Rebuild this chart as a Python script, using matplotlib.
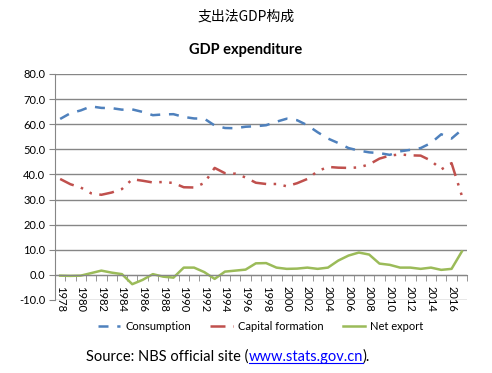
import numpy as np
import matplotlib
matplotlib.use("Agg")
import matplotlib.pyplot as plt
from matplotlib.ticker import FixedLocator

years = list(range(1978, 2018))

consumption = [62.1, 64.4, 65.5, 67.1, 66.5, 66.4, 65.8, 65.9, 64.9, 63.6,
               63.9, 64.0, 62.9, 62.3, 62.2, 59.5, 58.5, 58.4, 59.0, 59.2,
               59.6, 61.0, 62.2, 61.6, 59.6, 56.8, 54.3, 52.5, 50.5, 49.5,
               48.8, 48.5, 47.8, 49.2, 49.8, 50.5, 52.5, 56.0, 54.3, 57.8]

capital = [38.2, 36.1, 34.8, 32.5, 31.9, 32.8, 34.2, 38.1, 37.5, 36.8,
           37.0, 36.6, 34.9, 34.8, 36.6, 42.6, 40.5, 40.3, 38.8, 36.7,
           36.2, 36.2, 35.3, 36.5, 38.2, 41.3, 43.0, 42.7, 42.6, 42.8,
           44.0, 46.3, 47.5, 48.0, 47.6, 47.5, 45.5, 42.0, 44.5, 31.5]

net_export = [-0.3, -0.4, -0.3, 0.7, 1.7, 0.9, 0.3, -3.7, -2.0, 0.3,
              -0.7, -1.1, 2.9, 2.9, 1.1, -1.6, 1.3, 1.7, 2.1, 4.6,
              4.7, 2.9, 2.4, 2.5, 2.9, 2.4, 2.9, 5.7, 7.7, 8.9,
              8.1, 4.5, 4.0, 2.9, 2.9, 2.4, 2.9, 2.0, 2.4, 9.3]

blue = "#4F81BD"
red = "#C0504D"
green = "#9BBB59"
grid_c = "#868686"

fig = plt.figure(figsize=(4.92, 3.73), dpi=100)
ax = fig.add_axes([55 / 492, 1 - 300 / 373, 412 / 492, 226 / 373])

x = np.arange(len(years))
ax.plot(x, consumption, color=blue, lw=1.8, dashes=(4, 3.5), label="Consumption")
ax.plot(x, capital, color=red, lw=1.8, dashes=(6, 3, 1, 3, 1, 3), label="Capital formation")
ax.plot(x, net_export, color=green, lw=1.8, label="Net export")

ax.set_xlim(-0.5, len(years) - 0.5)
ax.set_ylim(-10, 80)
ax.set_yticks(np.arange(-10, 81, 10))
ax.set_yticklabels(["%.1f" % v for v in np.arange(-10, 81, 10)],
                   fontsize=8, family="Lato")
ax.yaxis.grid(True, color=grid_c, lw=1)
ax.set_axisbelow(True)

for s in ["top", "right"]:
    ax.spines[s].set_visible(False)
ax.spines["left"].set_color(grid_c)
ax.spines["bottom"].set_color(grid_c)
ax.spines["bottom"].set_position(("data", 0))
ax.tick_params(axis="y", color=grid_c, length=4, pad=3)

ax.set_xticks(x[::2])
ax.set_xticklabels([str(y) for y in years[::2]], rotation=-90,
                   fontsize=8, family="Lato", va="top", ha="center")
ax.xaxis.set_minor_locator(FixedLocator(np.arange(-0.5, len(years), 1)))
ax.tick_params(axis="x", which="major", length=0, pad=8)
ax.tick_params(axis="x", which="minor", length=4, color=grid_c, direction="out")

fig.text(0.5, 1 - 17 / 373, "支出法GDP构成", ha="center", va="center",
         fontsize=10, family=["Noto Sans CJK SC", "DejaVu Sans"])
fig.text(0.5, 1 - 50 / 373, "GDP expenditure", ha="center", va="center",
         fontsize=10.5, fontweight="bold", family="Lato")

fig.legend(loc="center", bbox_to_anchor=(0.53, 1 - 326 / 373), ncol=3,
           frameon=False, prop={"family": "Lato", "size": 8},
           handlelength=2.0, columnspacing=1.7, handletextpad=0.5)

# source line with link
fig.canvas.draw()
r = fig.canvas.get_renderer()
sy = 1 - 357 / 373
t1 = fig.text(86 / 492, sy, "Source: NBS official site (", ha="left", va="center",
              fontsize=10.5, family="Lato")
w1 = t1.get_window_extent(r).x1
t2 = fig.text(w1 / 492, sy, "www.stats.gov.cn", ha="left", va="center",
              fontsize=10.5, family="Lato", color="#0000FF")
bb2 = t2.get_window_extent(r)
fig.add_artist(plt.Line2D([bb2.x0 / 492, bb2.x1 / 492],
                          [(bb2.y0 + 1) / 373, (bb2.y0 + 1) / 373],
                          color="#0000FF", lw=0.8))
fig.text(bb2.x1 / 492, sy, ").", ha="left", va="center",
         fontsize=10.5, family="Lato")

fig.savefig("out.png", dpi=100)
